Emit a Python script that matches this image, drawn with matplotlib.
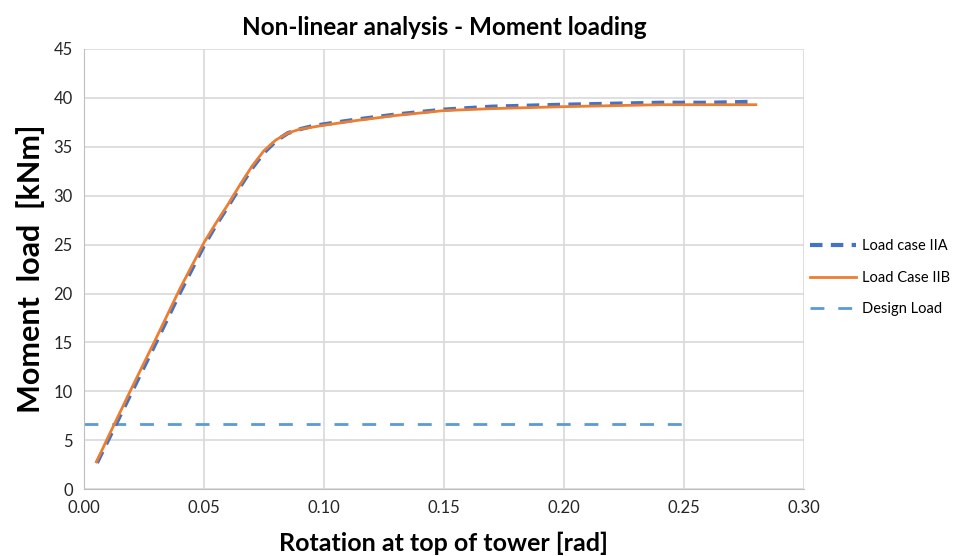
import matplotlib.pyplot as plt

# Load case IIA
rot_a = [0.0054, 0.01, 0.02, 0.03, 0.04, 0.05, 0.055, 0.06, 0.065, 0.07, 0.075,
         0.08, 0.085, 0.09, 0.095, 0.10, 0.114, 0.13, 0.15, 0.17, 0.20, 0.22,
         0.24, 0.26, 0.28]
mom_a = [2.7, 5.0, 10.0, 15.0, 20.1, 24.9, 27.0, 28.9, 30.9, 32.8, 34.4,
         35.6, 36.4, 36.8, 37.1, 37.3, 37.8, 38.3, 38.8, 39.1, 39.3, 39.4,
         39.5, 39.5, 39.6]

# Load case IIB
rot_b = [0.0052, 0.01, 0.02, 0.03, 0.04, 0.05, 0.055, 0.06, 0.065, 0.07, 0.075,
         0.08, 0.085, 0.09, 0.095, 0.10, 0.114, 0.13, 0.15, 0.17, 0.20, 0.22,
         0.24, 0.26, 0.28]
mom_b = [2.8, 5.3, 10.4, 15.4, 20.5, 25.2, 27.2, 29.1, 31.1, 33.0, 34.6,
         35.7, 36.4, 36.8, 37.0, 37.2, 37.7, 38.2, 38.7, 38.9, 39.1, 39.2,
         39.3, 39.3, 39.3]

# Design load
rot_d = [0.0, 0.25]
mom_d = [6.7, 6.7]

plt.rcParams['font.family'] = ['Lato', 'DejaVu Sans']

fig = plt.figure(figsize=(9.65, 5.56), dpi=100)
ax = fig.add_axes([0.087, 0.12, 0.746, 0.792])

ax.plot(rot_a, mom_a, color='#4472C4', lw=3, ls=(0, (3, 2)), label='Load case IIA', zorder=3)
ax.plot(rot_b, mom_b, color='#ED7D31', lw=2, label='Load Case IIB', zorder=4)
ax.plot(rot_d, mom_d, color='#5B9BD5', lw=2, ls=(0, (5, 5)), label='Design Load', zorder=2)

ax.set_xlim(0, 0.30)
ax.set_ylim(0, 45)
ax.set_xticks([0.0, 0.05, 0.10, 0.15, 0.20, 0.25, 0.30])
ax.set_xticklabels(['0.00', '0.05', '0.10', '0.15', '0.20', '0.25', '0.30'])
ax.set_yticks(range(0, 50, 5))
ax.tick_params(length=0, labelsize=12, colors='#262626', pad=8)
ax.grid(True, color='#D9D9D9', lw=1.2)
ax.set_axisbelow(True)
for s in ['top', 'right']:
    ax.spines[s].set_visible(False)
for s in ['left', 'bottom']:
    ax.spines[s].set_color('#BFBFBF')

ax.set_title('Non-linear analysis - Moment loading', fontsize=17.5, fontweight='bold', pad=10)
ax.set_xlabel('Rotation at top of tower [rad]', fontsize=18, fontweight='bold', labelpad=11)
ax.set_ylabel('Moment  load  [kNm]', fontsize=22, fontweight='bold', labelpad=6)

ax.legend(loc='center left', bbox_to_anchor=(0.99, 0.48), frameon=False, fontsize=10.5,
          handlelength=3.2, handletextpad=0.4, labelspacing=1.2)

fig.savefig('out.png', dpi=100)
